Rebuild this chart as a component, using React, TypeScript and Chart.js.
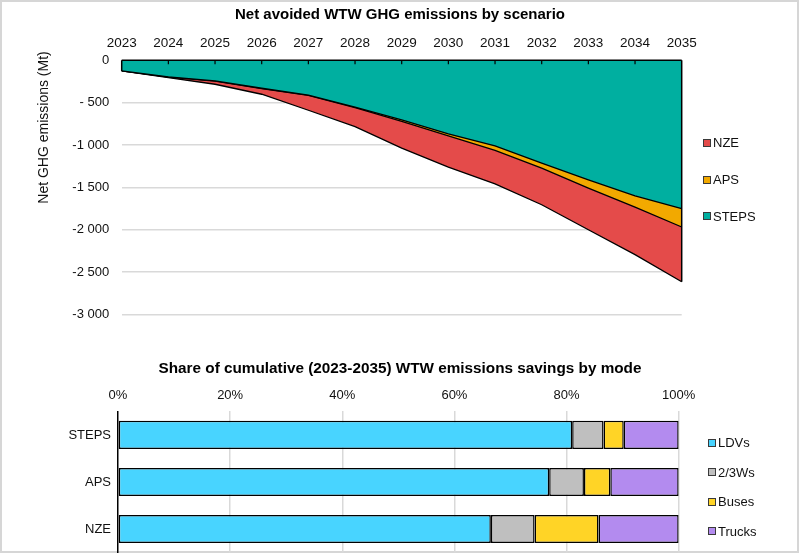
import React, { useEffect, useRef } from "react";
import { Chart, registerables } from "chart.js";

Chart.register(...registerables);

// ---------- Data: top chart ----------
const years = ["2023", "2024", "2025", "2026", "2027", "2028", "2029", "2030", "2031", "2032", "2033", "2034", "2035"];
const stepsValues = [-125, -195, -244, -330, -410, -552, -704, -869, -1012, -1215, -1411, -1600, -1753];
const apsValues = [-125, -197, -246, -333, -414, -560, -720, -893, -1065, -1274, -1509, -1733, -1969];
const nzeValues = [-125, -205, -283, -401, -590, -783, -1038, -1262, -1460, -1706, -2001, -2295, -2615];
const yMin = -3000;
const yMax = 0;
const yStep = 500;

// ---------- Data: bottom chart ----------
const scenarios = ["STEPS", "APS", "NZE"];
const ldvShare = [81.0, 76.9, 66.5];
const twoThreeWShare = [5.6, 6.2, 7.8];
const busShare = [3.6, 4.7, 11.4];
const truckShare = [9.8, 12.2, 14.3];
const pctMin = 0;
const pctMax = 100;
const pctStep = 20;

const FONT = "'Liberation Sans', Arial, Helvetica, sans-serif";

const C_NZE = "#E44B4A";
const C_APS = "#F2A900";
const C_STEPS = "#00AFA0";
const C_LDV = "#48D4FF";
const C_23W = "#BFBFBF";
const C_BUS = "#FFD426";
const C_TRUCK = "#B38BEF";

const topLegend = [
  { label: "NZE", color: C_NZE },
  { label: "APS", color: C_APS },
  { label: "STEPS", color: C_STEPS },
];
const bottomLegend = [
  { label: "LDVs", color: C_LDV },
  { label: "2/3Ws", color: C_23W },
  { label: "Buses", color: C_BUS },
  { label: "Trucks", color: C_TRUCK },
];

function formatThousands(v: number): string {
  const abs = Math.abs(v);
  let s: string;
  if (abs >= 1000) {
    s = `${Math.floor(abs / 1000)} ${String(abs % 1000).padStart(3, "0")}`;
  } else {
    s = String(abs);
  }
  if (v < 0) return abs < 1000 ? `- ${s}` : `-${s}`;
  return s;
}

function Legend({ items, left, top, spacing }: { items: { label: string; color: string }[]; left: number; top: number; spacing: number }) {
  return (
    <>
      {items.map((it, i) => (
        <div
          key={it.label}
          style={{
            position: "absolute",
            left,
            top: top + i * spacing - 9,
            height: 18,
            display: "flex",
            alignItems: "center",
            fontFamily: FONT,
            fontSize: 13,
            color: "#111",
            whiteSpace: "nowrap",
          }}
        >
          <span
            style={{
              display: "inline-block",
              width: 6,
              height: 6,
              background: it.color,
              border: "1px solid #3a3a3a",
              marginRight: 2,
            }}
          />
          <span>{it.label}</span>
        </div>
      ))}
    </>
  );
}

// an invisible right-hand box that reserves room for the legend so the title stays centred on the canvas
const spacerAxis = (axis: string, width: number) => ({
  axis,
  type: "linear",
  position: "right",
  display: true,
  grid: { display: false, drawTicks: false },
  border: { display: false },
  ticks: { display: false },
  afterFit: (s: any) => {
    s.width = width;
    s.paddingTop = 0;
    s.paddingBottom = 0;
  },
});

export default function App() {
  const topRef = useRef<HTMLCanvasElement | null>(null);
  const botRef = useRef<HTMLCanvasElement | null>(null);

  useEffect(() => {
    Chart.defaults.font.family = FONT;
    Chart.defaults.color = "#111";

    const topDecor = {
      id: "topDecor",
      afterDatasetsDraw(chart: any) {
        const ctx = chart.ctx;
        const xs = chart.scales.x;
        const ys = chart.scales.y;
        const area = chart.chartArea;
        const y0 = ys.getPixelForValue(0);
        ctx.save();
        ctx.strokeStyle = "#000";
        ctx.lineWidth = 1.5;
        const xl = xs.getPixelForValue(0);
        const xr = xs.getPixelForValue(years.length - 1);
        const firstMin = Math.min(stepsValues[0], apsValues[0], nzeValues[0]);
        const lastMin = Math.min(stepsValues[years.length - 1], apsValues[years.length - 1], nzeValues[years.length - 1]);
        ctx.beginPath();
        ctx.moveTo(xl, y0);
        ctx.lineTo(xl, ys.getPixelForValue(firstMin));
        ctx.moveTo(xr, y0);
        ctx.lineTo(xr, ys.getPixelForValue(lastMin));
        ctx.stroke();
        ctx.beginPath();
        ctx.moveTo(area.left, y0);
        ctx.lineTo(area.right, y0);
        ctx.stroke();
        ctx.lineWidth = 1.2;
        ctx.beginPath();
        for (let i = 1; i < years.length - 1; i++) {
          const x = xs.getPixelForValue(i);
          ctx.moveTo(x, y0);
          ctx.lineTo(x, y0 + 4);
        }
        ctx.stroke();
        ctx.fillStyle = "#111";
        ctx.font = `14px ${FONT}`;
        ctx.textAlign = "center";
        ctx.textBaseline = "middle";
        ctx.translate(44.5, 127.5);
        ctx.rotate(-Math.PI / 2);
        ctx.fillText("Net GHG emissions (Mt)", 0, 0);
        ctx.restore();
      },
    };

    const lineDs = (label: string, data: number[], color: string) => ({
      label,
      data,
      backgroundColor: color,
      borderColor: "#000",
      borderWidth: 1.3,
      fill: "origin",
      pointRadius: 0,
      tension: 0,
    });

    const topChart = new Chart(topRef.current as HTMLCanvasElement, {
      type: "line",
      data: {
        labels: years,
        datasets: [
          lineDs("STEPS", stepsValues, C_STEPS),
          lineDs("APS", apsValues, C_APS),
          lineDs("NZE", nzeValues, C_NZE),
        ],
      },
      options: {
        responsive: false,
        animation: false,
        layout: { padding: { left: 0, right: 0, top: 0, bottom: 25.7 } },
        plugins: {
          legend: { display: false },
          tooltip: { enabled: false },
          title: {
            display: true,
            text: "Net avoided WTW GHG emissions by scenario",
            color: "#000",
            font: { size: 15, weight: "bold", family: FONT },
            padding: { top: 5.5, bottom: 0 },
          },
        },
        scales: {
          x: {
            type: "category",
            position: "top",
            offset: false,
            grid: { display: false, drawTicks: false },
            border: { display: false },
            ticks: { color: "#111", font: { size: 13.5 }, padding: 9, maxRotation: 0, autoSkip: false },
            afterFit: (s: any) => {
              s.height = 36.8;
              s.paddingLeft = 0;
              s.paddingRight = 0;
            },
          },
          y: {
            min: yMin,
            max: yMax,
            grid: {
              drawTicks: false,
              color: (c: any) => (c.tick && c.tick.value === 0 ? "rgba(0,0,0,0)" : "#d9d9d9"),
              lineWidth: 1.5,
            },
            border: { display: false },
            ticks: {
              stepSize: yStep,
              color: "#111",
              font: { size: 13 },
              padding: 12.5,
              callback: (v: any) => formatThousands(Number(v)),
            },
            afterFit: (s: any) => {
              s.width = 121.7;
              s.paddingTop = 0;
              s.paddingBottom = 0;
            },
          },
          yR: spacerAxis("y", 118.3),
        },
      },
      plugins: [topDecor],
    } as any);

    const barDs = (label: string, data: number[], color: string) => ({
      label,
      data,
      backgroundColor: color,
      borderColor: "#000",
      borderWidth: 1.5,
      borderSkipped: false,
      categoryPercentage: 1,
      barPercentage: 0.6,
    });

    const botChart = new Chart(botRef.current as HTMLCanvasElement, {
      type: "bar",
      data: {
        labels: scenarios,
        datasets: [
          barDs("LDVs", ldvShare, C_LDV),
          barDs("2/3Ws", twoThreeWShare, C_23W),
          barDs("Buses", busShare, C_BUS),
          barDs("Trucks", truckShare, C_TRUCK),
        ],
      },
      options: {
        indexAxis: "y",
        responsive: false,
        animation: false,
        layout: { padding: { left: 0, right: 0, top: 0, bottom: 1.5 } },
        plugins: {
          legend: { display: false },
          tooltip: { enabled: false },
          title: {
            display: true,
            text: "Share of cumulative (2023-2035) WTW emissions savings by mode",
            color: "#000",
            font: { size: 15.3, weight: "bold", family: FONT },
            padding: { top: 19.5, bottom: 0 },
          },
        },
        scales: {
          x: {
            stacked: true,
            position: "top",
            min: pctMin,
            max: pctMax,
            grid: {
              drawTicks: false,
              color: (c: any) => (c.tick && c.tick.value === 0 ? "rgba(0,0,0,0)" : "#d9d9d9"),
              lineWidth: 1.5,
            },
            border: { display: false },
            ticks: {
              stepSize: pctStep,
              color: "#111",
              font: { size: 13 },
              padding: 8.7,
              callback: (v: any) => `${v}%`,
            },
            afterFit: (s: any) => {
              s.height = 33.6;
              s.paddingLeft = 0;
              s.paddingRight = 0;
            },
          },
          y: {
            stacked: true,
            grid: { display: false, drawTicks: false },
            border: { display: true, color: "#000", width: 1.5 },
            ticks: { color: "#111", font: { size: 13 }, padding: 7 },
            afterFit: (s: any) => {
              s.width = 118;
              s.paddingTop = 0;
              s.paddingBottom = 0;
            },
          },
          yR: spacerAxis("y", 121.3),
        },
      },
    } as any);

    return () => {
      topChart.destroy();
      botChart.destroy();
    };
  }, []);

  return (
    <div style={{ position: "absolute", left: 0, top: 0, width: 800, height: 554, background: "#fff", overflow: "hidden" }}>
      <div
        style={{
          position: "absolute",
          left: 0,
          top: 0,
          width: 799,
          height: 553,
          boxSizing: "border-box",
          border: "2px solid #d6d6d6",
        }}
      />
      <canvas ref={topRef} width={800} height={340} style={{ position: "absolute", left: 0, top: 0, display: "block" }} />
      <canvas ref={botRef} width={800} height={214} style={{ position: "absolute", left: 0, top: 340, display: "block" }} />
      <Legend items={topLegend} left={703} top={142.8} spacing={36.7} />
      <Legend items={bottomLegend} left={708} top={442.5} spacing={29.5} />
    </div>
  );
}
